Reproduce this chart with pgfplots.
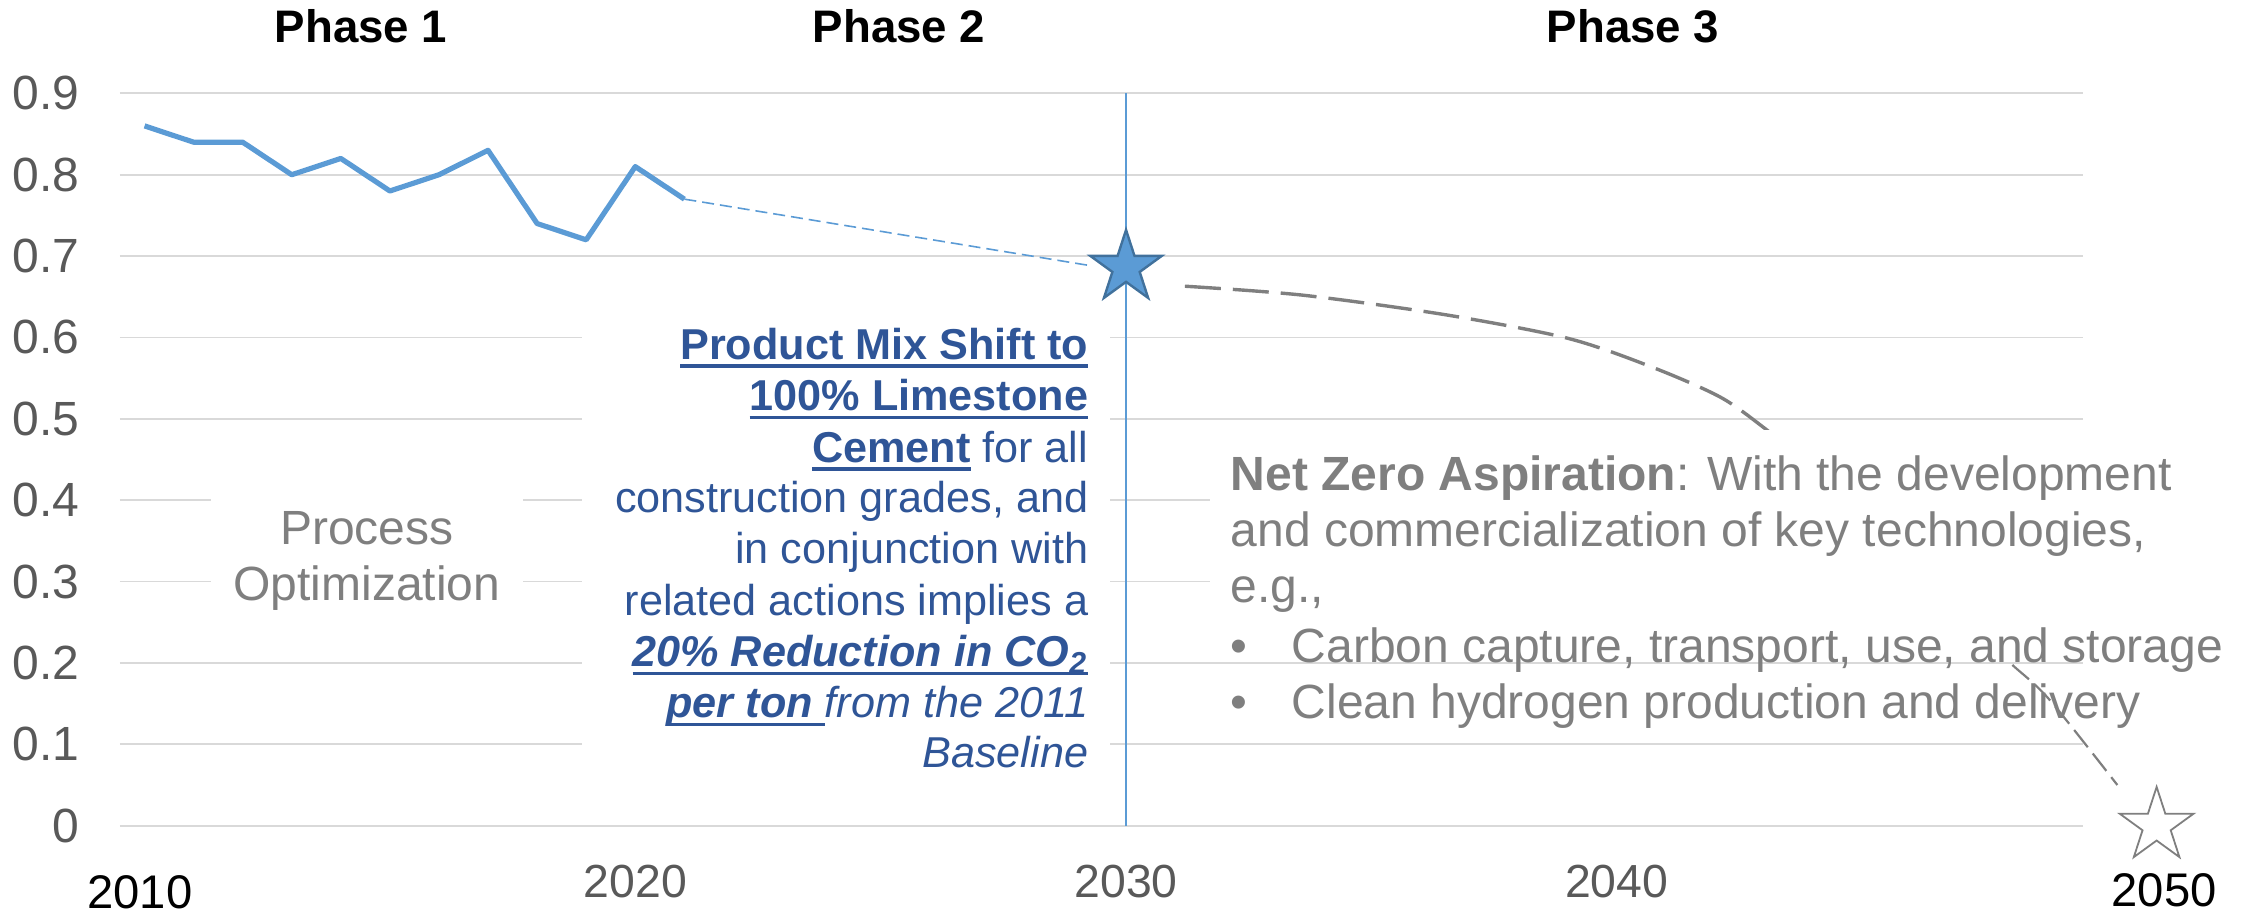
\documentclass[border=0pt]{standalone}
\usepackage{fontspec}
\setmainfont{Liberation Sans}
\usepackage{pgfplots}
\pgfplotsset{compat=1.18}
\definecolor{lineblue}{HTML}{5B9BD5}
\definecolor{stardark}{HTML}{41719C}
\definecolor{textblue}{HTML}{2F5597}
\definecolor{grey7f}{HTML}{7F7F7F}
\definecolor{tickgrey}{HTML}{595959}
\definecolor{gridgrey}{HTML}{D9D9D9}
\pgfdeclareplotmark{fivestar}{%
  \pgfpathmoveto{\pgfqpointpolar{90}{\pgfplotmarksize}}%
  \pgfpathlineto{\pgfqpointpolar{126}{0.382\pgfplotmarksize}}%
  \pgfpathlineto{\pgfqpointpolar{162}{\pgfplotmarksize}}%
  \pgfpathlineto{\pgfqpointpolar{198}{0.382\pgfplotmarksize}}%
  \pgfpathlineto{\pgfqpointpolar{234}{\pgfplotmarksize}}%
  \pgfpathlineto{\pgfqpointpolar{270}{0.382\pgfplotmarksize}}%
  \pgfpathlineto{\pgfqpointpolar{306}{\pgfplotmarksize}}%
  \pgfpathlineto{\pgfqpointpolar{342}{0.382\pgfplotmarksize}}%
  \pgfpathlineto{\pgfqpointpolar{18}{\pgfplotmarksize}}%
  \pgfpathlineto{\pgfqpointpolar{54}{0.382\pgfplotmarksize}}%
  \pgfpathclose
  \pgfusepathqfillstroke
}
\newcommand\ul[1]{\leavevmode\setbox0=\hbox{#1}\rlap{\rule[-2.1pt]{\wd0}{0.85pt}}\box0}
\newcommand\bt{\fontsize{10.8}{12.8}\selectfont}
\newcommand\gt{\fontsize{12}{14}\selectfont}
\begin{document}
\begin{tikzpicture}
\useasboundingbox (-30pt,-21.825pt) rectangle (531.5pt,206.425pt);
\begin{axis}[
  at={(0pt,0pt)}, anchor=south west,
  scale only axis, width=490.75pt, height=183.1pt,
  xmin=2009.5, xmax=2049.5, ymin=0, ymax=0.9,
  axis line style={draw=none},
  major tick length=0pt,
  ymajorgrids, grid style={gridgrey, line width=0.45pt},
  ytick={0,0.1,0.2,0.3,0.4,0.5,0.6,0.7,0.8,0.9},
  yticklabels={0,0.1,0.2,0.3,0.4,0.5,0.6,0.7,0.8,0.9},
  xtick={2020,2030,2040}, xticklabels={2020,2030,2040},
  ticklabel style={text=tickgrey},
  yticklabel style={font=\fontsize{12}{14}\selectfont, anchor=east, inner sep=0pt, xshift=-10pt},
  xticklabel style={font=\fontsize{11.6}{14}\selectfont, anchor=north, inner sep=0pt, yshift=-9.75pt},
  clip=false,
]
\addplot[lineblue, line width=1.3pt, line join=round] coordinates {(2010,0.86)(2011,0.84)(2012,0.84)(2013,0.80)(2014,0.82)(2015,0.78)(2016,0.80)(2017,0.83)(2018,0.74)(2019,0.72)(2020,0.81)(2021,0.77)};
\addplot[lineblue, line width=0.4pt, dash pattern=on 3pt off 1.5pt] coordinates {(2021,0.77)(2029.3,0.688)};
\addplot[grey7f, line width=0.85pt, dash pattern=on 9pt off 3pt, smooth] coordinates {(2031.2,0.663)(2033.6,0.652)(2036.5,0.628)(2039.0,0.599)(2040.7,0.564)(2042.1,0.527)(2043.0,0.489)(2044,0.44)};
\addplot[grey7f, line width=0.55pt, dash pattern=on 5.5pt off 2pt, smooth] coordinates {(2047.2,0.25)(2048.0,0.201)(2048.8,0.156)(2050.2,0.05)};
\addplot[only marks, mark=fivestar, mark size=9.4pt, mark options={fill=lineblue, draw=stardark, line width=0.6pt}] coordinates {(2030,0.686)};
\addplot[lineblue, line width=0.35pt] coordinates {(2030,0)(2030,0.9)};
\addplot[only marks, mark=fivestar, mark size=9.7pt, mark options={fill=white, draw=grey7f, line width=0.45pt}] coordinates {(2051.0,0)};
\end{axis}
% white backgrounds of the text boxes
\fill[white] (115.5pt,5pt) rectangle (247.5pt,128.4pt);
\fill[white] (22.75pt,49.5pt) rectangle (100.75pt,92pt);
\fill[white] (272.5pt,41.2pt) rectangle (531.5pt,98.9pt);
% phase labels
\begin{scope}[every node/.style={inner sep=0pt, anchor=base, font=\bfseries\fontsize{11.4}{13}\selectfont}]
\node at (60.25pt,195.7pt) {Phase 1};
\node at (194.75pt,195.7pt) {Phase 2};
\node at (378.25pt,195.7pt) {Phase 3};
\end{scope}
% process optimization
\begin{scope}[every node/.style={inner sep=0pt, anchor=base, text=grey7f, font=\fontsize{12}{13}\selectfont}]
\node at (61.75pt,70.4pt) {Process};
\node at (61.75pt,56.2pt) {Optimization};
\end{scope}
% phase 2 text
\begin{scope}[every node/.style={inner sep=0pt, anchor=base east, text=textblue, font=\bt}]
\node at (242.25pt,116.6pt) {\textbf{\ul{Product Mix Shift to}}};
\node at (242.25pt,103.8pt) {\textbf{\ul{100\% Limestone}}};
\node at (242.25pt,90.9pt) {\textbf{\ul{Cement}} for all};
\node at (242.25pt,78.4pt) {construction grades, and};
\node at (242.25pt,65.45pt) {in conjunction with};
\node at (242.25pt,52.5pt) {related actions implies a};
\node at (242.25pt,39.7pt) {\textbf{\textit{\ul{20\% Reduction in CO\textsubscript{2}}}}};
\node at (242.25pt,27.05pt) {\textbf{\textit{\ul{per ton\ }}}\textit{from the 2011}};
\node at (242.25pt,14.55pt) {\textit{Baseline}};
\end{scope}
% phase 3 text
\begin{scope}[every node/.style={inner sep=0pt, anchor=base west, text=grey7f, font=\gt}]
\node at (277.5pt,83.9pt) {\textbf{Net Zero Aspiration}: With the development};
\node at (277.5pt,69.7pt) {and commercialization of key technologies,};
\node at (277.5pt,55.7pt) {e.g.,};
\node at (277.5pt,40.9pt) {\textbullet};
\node at (292.75pt,40.9pt) {Carbon capture, transport, use, and storage};
\node at (277.5pt,26.9pt) {\textbullet};
\node at (292.75pt,26.9pt) {Clean hydrogen production and delivery};
\end{scope}
% black year labels
\begin{scope}[every node/.style={inner sep=0pt, anchor=base, font=\fontsize{11.8}{13}\selectfont}]
\node at (5pt,-20.6pt) {2010};
\node at (511pt,-20.3pt) {2050};
\end{scope}
\end{tikzpicture}
\end{document}
